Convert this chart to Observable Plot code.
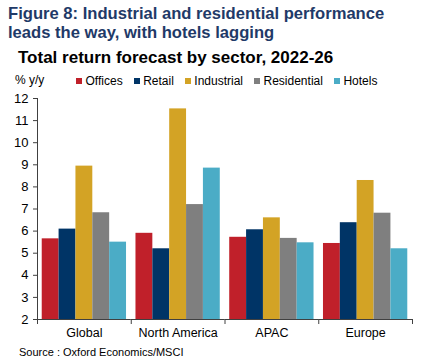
<!DOCTYPE html>
<html><head><meta charset="utf-8">
<script src="https://cdn.jsdelivr.net/npm/d3@7"></script>
<script src="https://cdn.jsdelivr.net/npm/@observablehq/plot@0.6"></script>
<style>
body{margin:0;background:#fff;font-family:"Liberation Sans",Arial,sans-serif;}
#wrap{position:relative;width:422px;height:363px;overflow:hidden;}
.abs{position:absolute;white-space:nowrap;}
#title{left:8px;top:4px;font-weight:bold;font-size:16.6px;line-height:19px;color:#1f3a68;}
#sub{left:18px;top:48px;font-weight:bold;font-size:17px;color:#000;}
#unit{left:15px;top:73px;font-size:12px;color:#000;}
#legend{left:76px;top:74px;font-size:12px;display:flex;gap:11px;color:#000;}
#legend span.sw{display:inline-block;width:6px;height:6px;margin-right:3.5px;vertical-align:1px;}
#source{left:19px;top:346px;font-size:11px;color:#000;}
#chart{left:0;top:0;}
</style></head>
<body>
<div id="wrap">
  <div id="chart" class="abs"></div>
  <div id="title" class="abs">Figure 8: Industrial and residential performance<br>leads the way, with hotels lagging</div>
  <div id="sub" class="abs">Total return forecast by sector, 2022-26</div>
  <div id="unit" class="abs">% y/y</div>
  <div id="legend" class="abs"></div>
  <div id="source" class="abs">Source : Oxford Economics/MSCI</div>
</div>
<script>
const regions = ["Global", "North America", "APAC", "Europe"];
const sectors = ["Offices", "Retail", "Industrial", "Residential", "Hotels"];
const offices = [5.65, 5.90, 5.72, 5.44];
const retail = [6.09, 5.20, 6.06, 6.38];
const industrial = [8.94, 11.53, 6.60, 8.29];
const residential = [6.83, 7.20, 5.67, 6.81];
const hotels = [5.50, 8.85, 5.47, 5.20];
const colors = ["#c0202a", "#003466", "#d3a325", "#7f7f7f", "#4bacc6"];
const yTicks = [2, 3, 4, 5, 6, 7, 8, 9, 10, 11, 12];

const series = [offices, retail, industrial, residential, hotels];
const table = [];
regions.forEach((r, i) => sectors.forEach((s, j) => table.push({region: r, sector: s, value: series[j][i]})));

const W = 422, H = 363, mL = 37, mR = 10;
const bw = (W - mL - mR) / regions.length / (sectors.length + 0.56);
const edge = bw * 0.78;
const yMin = yTicks[0], yMax = yTicks[yTicks.length - 1];
const axisColor = "#404040";

const plot = Plot.plot({
  width: W, height: H,
  marginTop: 98, marginBottom: 44, marginLeft: mL, marginRight: mR,
  style: {fontFamily: "'Liberation Sans', Arial, sans-serif", fontSize: "13px", color: "#000", background: "transparent"},
  fx: {domain: regions, padding: 0, round: false, label: null},
  x: {domain: sectors, paddingInner: 0, paddingOuter: 0.28, round: false, axis: null},
  y: {domain: [yMin, yMax], label: null},
  color: {domain: sectors, range: colors},
  marks: [
    Plot.barY(table, {fx: "region", x: "sector", y1: yMin, y2: "value", fill: "sector", inset: 0, insetLeft: 0, insetRight: 0}),
    Plot.ruleY(regions, {fx: d => d, y: yMin, stroke: axisColor}),
    Plot.ruleX(regions, {fx: d => d, x: () => sectors[0], y1: yMin, y2: yMin, insetBottom: -5, dx: -edge, stroke: axisColor}),
    Plot.ruleX([regions[regions.length - 1]], {fx: d => d, x: () => sectors[sectors.length - 1], y1: yMin, y2: yMin, insetBottom: -5, dx: edge, stroke: axisColor}),
    Plot.ruleX([regions[0]], {fx: d => d, x: () => sectors[0], y1: yMin, y2: yMax, dx: -edge, stroke: axisColor}),
    Plot.axisY({ticks: yTicks, tickSize: 4, tickPadding: 5, stroke: axisColor, fontSize: 13, tickFormat: d => d}),
    Plot.axisFx({anchor: "bottom", tickSize: 0, tickPadding: 9, fontSize: 12.5, label: null})
  ]
});
document.getElementById("chart").appendChild(plot);

const leg = document.getElementById("legend");
sectors.forEach((s, i) => {
  const d = document.createElement("div");
  d.innerHTML = `<span class="sw" style="background:${colors[i]}"></span>${s}`;
  leg.appendChild(d);
});
</script>
</body></html>
